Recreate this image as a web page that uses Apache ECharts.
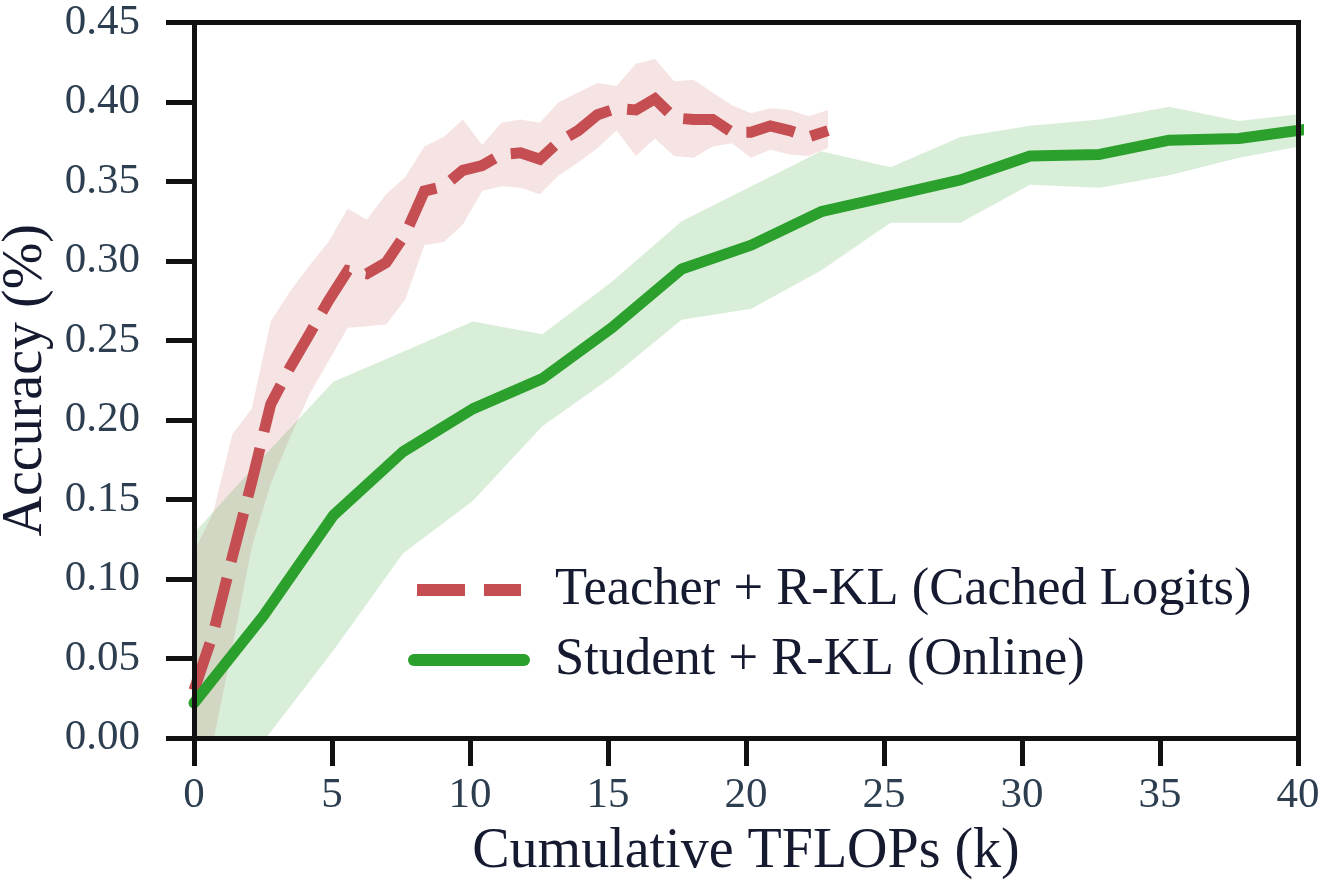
<!DOCTYPE html>
<html>
<head>
<meta charset="utf-8">
<title>Accuracy vs Cumulative TFLOPs</title>
<script src="https://cdn.jsdelivr.net/npm/echarts@6.0.0/dist/echarts.min.js"></script>
<style>
  html, body { margin: 0; padding: 0; background: #fff; }
  #chart { width: 1330px; height: 892px; }
</style>
</head>
<body>
<div id="chart"></div>
<script>
// values (x in k TFLOPs, y = accuracy)
var teacherX = [0, 0.70, 1.39, 2.09, 2.78, 3.48, 4.18, 4.87, 5.57, 6.26, 6.96, 7.66, 8.35, 9.05, 9.74, 10.44, 11.14,
  11.83, 12.53, 13.22, 13.92, 14.62, 15.31, 16.01, 16.70, 17.40, 18.10, 18.79, 19.49, 20.18, 20.88, 21.58, 22.27, 22.97];
var teacherMean = [0.030, 0.066, 0.114, 0.161, 0.210, 0.233, 0.254, 0.275, 0.294, 0.292, 0.299, 0.317, 0.344, 0.347,
  0.357, 0.360, 0.367, 0.368, 0.364, 0.375, 0.382, 0.392, 0.396, 0.395, 0.402, 0.390, 0.389, 0.389, 0.381, 0.381,
  0.385, 0.382, 0.378, 0.382];
var teacherUpper = [0.117, 0.142, 0.191, 0.207, 0.262, 0.281, 0.297, 0.312, 0.333, 0.326, 0.342, 0.353, 0.372, 0.378,
  0.389, 0.373, 0.387, 0.389, 0.387, 0.400, 0.406, 0.412, 0.410, 0.424, 0.427, 0.413, 0.414, 0.406, 0.398, 0.393,
  0.396, 0.395, 0.391, 0.395];
var teacherLower = [-0.05, -0.002, 0.057, 0.120, 0.160, 0.189, 0.216, 0.237, 0.258, 0.259, 0.260, 0.276, 0.310, 0.312,
  0.323, 0.344, 0.347, 0.346, 0.342, 0.354, 0.362, 0.371, 0.382, 0.366, 0.377, 0.366, 0.365, 0.372, 0.374, 0.365,
  0.370, 0.367, 0.366, 0.371];

var studentX = [0, 2.52, 5.05, 7.57, 10.10, 12.62, 15.14, 17.67, 20.19, 22.72, 25.24, 27.77, 30.29, 32.81, 35.34, 37.86, 40.38];
var studentMean = [0.022, 0.077, 0.140, 0.180, 0.207, 0.226, 0.258, 0.295, 0.310, 0.331, 0.341, 0.351, 0.366, 0.367, 0.376, 0.377, 0.383];
var studentUpper = [0.129, 0.177, 0.224, 0.243, 0.262, 0.254, 0.287, 0.325, 0.347, 0.369, 0.359, 0.378, 0.385, 0.389, 0.397, 0.388, 0.393];
var studentLower = [-0.05, -0.002, 0.055, 0.116, 0.149, 0.196, 0.227, 0.263, 0.270, 0.294, 0.324, 0.324, 0.348, 0.346, 0.354, 0.365, 0.373];

var seriesNames = ['Teacher + R-KL (Cached Logits)', 'Student + R-KL (Online)'];

(function () {
  var RED = '#c44e52';
  var GREEN = '#2ca02c';
  var FONT = 'Liberation Serif';
  var chart = echarts.init(document.getElementById('chart'));

  function pairs(xs, ys) {
    return xs.map(function (x, i) { return [x, ys[i]]; });
  }

  // shaded band: one polygon (upper edge, then lower edge backwards) via custom series
  function band(id, xs, lo, hi, fill) {
    return {
      name: id + '-band', type: 'custom', silent: true, z: 1, clip: true,
      data: xs.map(function (x, i) { return [x, lo[i], hi[i]]; }),
      encode: { x: 0, y: [1, 2] },
      renderItem: function (params, api) {
        if (params.dataIndex !== 0) return null;
        var pts = [];
        for (var i = 0; i < xs.length; i++) pts.push(api.coord([xs[i], hi[i]]));
        for (var j = xs.length - 1; j >= 0; j--) pts.push(api.coord([xs[j], lo[j]]));
        return { type: 'polygon', shape: { points: pts }, style: { fill: fill } };
      }
    };
  }

  var spine = { color: '#111', width: 5, cap: 'square' };

  var option = {
    animation: false,
    backgroundColor: '#fff',
    grid: { left: 194, right: 32, top: 22.5, bottom: 154, outerBoundsMode: 'none', containLabel: false },
    xAxis: [{
      type: 'value', min: 0, max: 40, interval: 5, position: 'bottom', z: 10,
      axisLine: { show: true, onZero: false, lineStyle: spine },
      axisTick: { show: true, length: 28, lineStyle: { color: '#111', width: 5 } },
      axisLabel: { margin: 36, fontFamily: FONT, fontSize: 43, color: '#2c3e50' },
      splitLine: { show: false },
      name: 'Cumulative TFLOPs (k)', nameLocation: 'middle', nameGap: 86,
      nameTextStyle: { fontFamily: FONT, fontSize: 56, color: '#151a30' }
    }, {
      type: 'value', min: 0, max: 40, position: 'top', z: 10,
      axisLine: { show: true, onZero: false, lineStyle: spine },
      axisTick: { show: false }, axisLabel: { show: false }, splitLine: { show: false }
    }],
    yAxis: [{
      type: 'value', min: 0, max: 0.45, interval: 0.05, position: 'left', z: 10,
      axisLine: { show: true, onZero: false, lineStyle: spine },
      axisTick: { show: true, length: 28, lineStyle: { color: '#111', width: 5 } },
      axisLabel: {
        margin: 54, fontFamily: FONT, fontSize: 43, color: '#2c3e50',
        formatter: function (v) { return v.toFixed(2); }
      },
      splitLine: { show: false },
      name: 'Accuracy (%)', nameLocation: 'middle', nameGap: 124,
      nameTextStyle: { fontFamily: FONT, fontSize: 56, color: '#151a30' }
    }, {
      type: 'value', min: 0, max: 0.45, position: 'right', z: 10,
      axisLine: { show: true, onZero: false, lineStyle: spine },
      axisTick: { show: false }, axisLabel: { show: false }, splitLine: { show: false }
    }],
    legend: {
      orient: 'vertical', left: 408, top: 560, padding: 0,
      itemWidth: 122, itemHeight: 12, itemGap: 10, selectedMode: false,
      itemStyle: { borderWidth: 0 },
      textStyle: { fontFamily: FONT, fontSize: 52.5, color: '#151a30', lineHeight: 60, padding: [0, 0, 0, 20] },
      data: [
        { name: seriesNames[0], icon: 'path://M0,0H48V12H0Z M67,0H104V12H67Z' },
        { name: seriesNames[1], icon: 'path://M6,0H116A6,6,0,0,1,116,12H6A6,6,0,0,1,6,0Z' }
      ]
    },
    series: [
      band('teacher', teacherX, teacherLower, teacherUpper, 'rgba(196,78,82,0.16)'),
      band('student', studentX, studentLower, studentUpper, 'rgba(44,160,44,0.18)'),
      {
        name: seriesNames[0], type: 'line', data: pairs(teacherX, teacherMean),
        color: RED, symbol: 'none', z: 3, clip: true,
        lineStyle: { color: RED, width: 11, type: [50, 17], cap: 'butt', join: 'miter' }
      }, {
        name: seriesNames[1], type: 'line', data: pairs(studentX, studentMean),
        color: GREEN, symbol: 'none', z: 4, clip: true,
        lineStyle: { color: GREEN, width: 11, cap: 'round', join: 'round' }
      }
    ]
  };

  chart.setOption(option);
})();
</script>
</body>
</html>
